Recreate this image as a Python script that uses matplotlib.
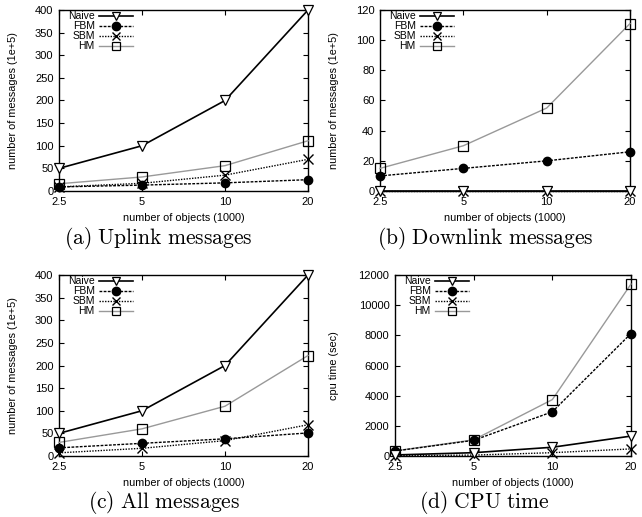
import matplotlib
matplotlib.use("Agg")
from matplotlib import pyplot as plt
from matplotlib.ticker import FixedLocator, NullLocator, FixedFormatter

plt.rcParams["font.family"] = ["Liberation Sans", "DejaVu Sans"]
plt.rcParams["mathtext.fontset"] = "cm"

# number of objects (1000)
objetos = [2.5, 5, 10, 20]
rotulos_x = ["2.5", "5", "10", "20"]

# (a) uplink messages (1e+5)
up_naive = [50, 100, 200, 400]
up_fbm = [9, 13, 18, 25]
up_sbm = [9, 17, 35, 70]
up_hm = [16, 31, 56, 111]

# (b) downlink messages (1e+5)
down_naive = [0, 0, 0, 0]
down_fbm = [10, 15, 20, 26]
down_sbm = [0, 0, 0, 0]
down_hm = [15, 30, 55, 111]

# (c) all messages (1e+5)
all_naive = [50, 100, 200, 400]
all_fbm = [18, 28, 38, 51]
all_sbm = [7, 17, 34, 69]
all_hm = [30, 60, 110, 222]

# (d) cpu time (sec)
cpu_naive = [70, 220, 580, 1320]
cpu_fbm = [330, 1040, 2930, 8120]
cpu_sbm = [30, 60, 220, 470]
cpu_hm = [340, 1070, 3740, 11400]

W, H = 642, 517
fig = plt.figure(figsize=(W / 100, H / 100), dpi=100)


def eixo(x0, y0, x1, y1):
    # caixa em pixels -> coordenadas da figura
    ax = fig.add_axes([x0 / W, 1 - y1 / H, (x1 - x0) / W, (y1 - y0) / H])
    ax.caixa = (x0, y0, x1, y1)
    return ax


def grafico(ax, naive, fbm, sbm, hm, ymax, yticks, ylabel, ylab_x):
    ax.plot(objetos, naive, color="black", lw=1.2, marker="v", ms=6.5,
            mfc="white", mec="black", mew=0.9, label="Naive", clip_on=False, zorder=5)
    ax.plot(objetos, fbm, color="black", lw=1.0, ls=(0, (2, 1)), marker="o", ms=6,
            mfc="black", mec="black", label="FBM", clip_on=False, zorder=4)
    ax.plot(objetos, sbm, color="black", lw=1.0, ls=(0, (1, 1)), marker="x", ms=6.5,
            mew=1.0, label="SBM", clip_on=False, zorder=4)
    ax.plot(objetos, hm, color="#999999", lw=1.0, marker="s", ms=7,
            mfc="none", mec="black", mew=0.9, label="HM", clip_on=False, zorder=3)
    ax.set_xscale("log")
    ax.set_xlim(2.5, 20)
    ax.xaxis.set_major_locator(FixedLocator(objetos))
    ax.xaxis.set_major_formatter(FixedFormatter(rotulos_x))
    ax.xaxis.set_minor_locator(NullLocator())
    ax.set_ylim(0, ymax)
    ax.set_yticks(yticks)
    ax.tick_params(direction="in", length=3.5, width=0.8, labelsize=8,
                   top=True, right=True, pad=4)
    for s in ax.spines.values():
        s.set_linewidth(1.0)
    x0, y0, x1, y1 = ax.caixa
    ax.set_xlabel("number of objects (1000)", fontsize=7.8)
    ax.xaxis.set_label_coords(0.5, -22 / 181)
    ax.set_ylabel(ylabel, fontsize=7.8)
    ax.yaxis.set_label_coords((ylab_x - x0) / (x1 - x0), 0.5)
    leg = ax.legend(loc="upper left", bbox_to_anchor=(9 / (x1 - x0), 1 - 1 / 181),
                    markerfirst=False, frameon=False, fontsize=7.5,
                    handlelength=3.2, handletextpad=0.45, labelspacing=0.0,
                    handleheight=0.6, borderaxespad=0, borderpad=0)
    for h in leg.legend_handles:
        h.set_markersize(6)
    return leg


ax1 = eixo(59, 10, 308, 191)
grafico(ax1, up_naive, up_fbm, up_sbm, up_hm, 400, range(0, 401, 50),
        "number of messages (1e+5)", 18)
ax2 = eixo(380, 10, 630, 191)
grafico(ax2, down_naive, down_fbm, down_sbm, down_hm, 120, range(0, 121, 20),
        "number of messages (1e+5)", 339)
ax3 = eixo(59, 275, 308, 456)
grafico(ax3, all_naive, all_fbm, all_sbm, all_hm, 400, range(0, 401, 50),
        "number of messages (1e+5)", 18)
ax4 = eixo(395, 275, 631, 456)
grafico(ax4, cpu_naive, cpu_fbm, cpu_sbm, cpu_hm, 12000, range(0, 12001, 2000),
        "cpu time (sec)", 339)

legendas = [(158, 239, r"$\mathrm{(a)\ Uplink\ messages}$"),
            (485, 239, r"$\mathrm{(b)\ Downlink\ messages}$"),
            (164, 502, r"$\mathrm{(c)\ All\ messages}$"),
            (484, 502, r"$\mathrm{(d)\ CPU\ time}$")]
for x, y, t in legendas:
    fig.text(x / W, 1 - y / H, t, ha="center", va="center", fontsize=15.5)

fig.savefig("out.png", dpi=100)
